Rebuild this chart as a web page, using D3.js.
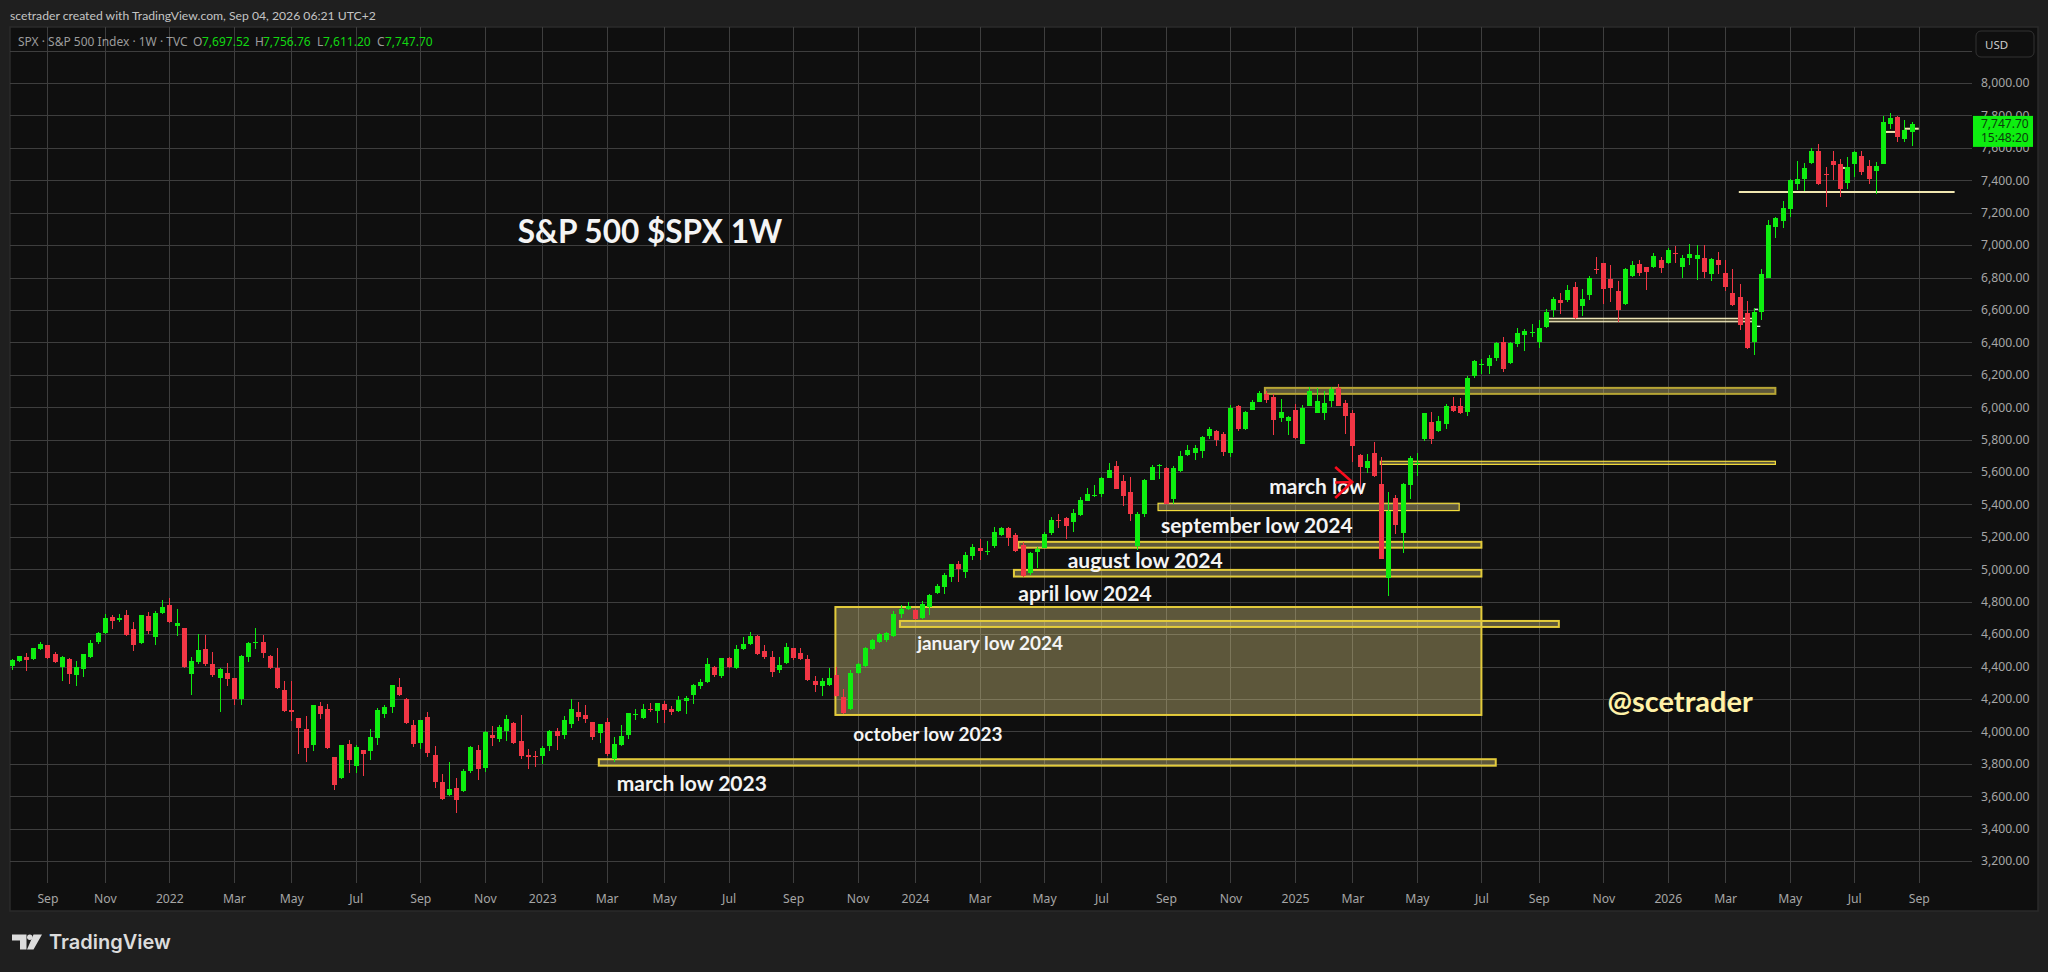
<!DOCTYPE html>
<html lang="en">
<head>
    <meta charset="UTF-8">
    <title>S&amp;P 500 $SPX 1W</title>
    <script src="https://d3js.org/d3.v7.min.js"></script>
    <style>
        html, body { margin: 0; padding: 0; background: #1f1f1f; overflow: hidden; }
        svg { display: block; }
        text { font-family: "Noto Sans", sans-serif; }
        .axis-label text { fill: #a6a6a6; font-size: 12.2px; }
        .axis-label .domain, .grid .domain { display: none; }
        .grid line { stroke: #3e3e3e; stroke-width: 1; shape-rendering: crispEdges; }
        .note { font-family: Lato, sans-serif; font-weight: 700; fill: #f4f4f4; font-size: 21px; dominant-baseline: middle; }
    </style>
</head>
<body>
    <div id="chart"></div>
    <script>
        // weekly candles, oldest first
        const opens = [
            4401,4432,4461,4444,4506,4531,4475,4397,4444,4346,
            4383,4457,4549,4605,4703,4685,4716,4629,4543,4709,
            4580,4728,4777,4648,4635,4352,4426,4506,4413,4327,
            4358,4327,4197,4457,4543,4549,4463,4389,4253,4130,
            4080,4012,3914,4154,4136,3840,3710,3920,3784,3883,
            3877,3957,4105,4148,4272,4197,4037,3926,4086,3852,
            3686,3605,3649,3630,3753,3883,3772,3975,3951,4000,
            4049,3938,3852,3846,3846,3908,4000,3975,4043,4117,
            4099,4056,3988,4056,3827,3914,3975,4099,4080,4136,
            4123,4167,4136,4123,4185,4222,4278,4302,4395,4339,
            4450,4389,4506,4537,4586,4494,4457,4376,4420,4512,
            4481,4444,4308,4278,4284,4346,4210,4136,4358,4401,
            4506,4549,4561,4586,4722,4753,4746,4697,4765,4851,
            4888,4950,5030,4985,5084,5133,5108,5145,5213,5256,
            5213,5152,4979,5108,5133,5226,5306,5318,5293,5337,
            5423,5454,5466,5565,5639,5546,5478,5145,5343,5553,
            5639,5627,5435,5608,5707,5719,5731,5824,5855,5836,
            5719,6009,5867,5984,6034,6083,6064,5935,5916,5984,
            5775,6009,5966,5966,6040,6120,6027,5966,5707,5627,
            5719,5528,4948,5441,5226,5522,5651,5803,5907,5852,
            5895,6006,6006,5969,6191,6261,6253,6302,6401,6271,
            6389,6444,6459,6401,6494,6598,6660,6660,6740,6623,
            6691,6851,6888,6790,6716,6635,6808,6882,6864,6864,
            6907,6888,6950,6864,6919,6913,6919,6820,6907,6827,
            6703,6679,6580,6401,6586,6799,7113,7150,7224,7379,
            7409,7508,7582,7436,7520,7502,7385,7502,7551,7490,
            7459,7502,7749,7792,7656,7697.52
        ];
        const highs = [
            4444,4467,4481,4515,4549,4533,4491,4465,4454,4432,
            4478,4561,4611,4722,4716,4722,4746,4672,4718,4734,
            4740,4808,4820,4753,4637,4457,4598,4592,4487,4389,
            4420,4329,4469,4549,4635,4592,4469,4512,4308,4308,
            4082,4093,4162,4179,4167,3842,3916,3945,3914,3885,
            4012,4142,4160,4286,4327,4204,4068,4070,4117,3908,
            3735,3809,3710,3766,3908,3914,4000,4031,4037,4099,
            4056,4099,3889,3877,3908,4006,4019,4093,4197,4179,
            4160,4058,4045,4080,3963,4037,4113,4136,4167,4173,
            4175,4185,4154,4216,4216,4290,4321,4450,4401,4452,
            4456,4531,4580,4611,4592,4531,4494,4457,4543,4514,
            4512,4469,4339,4327,4389,4395,4259,4376,4420,4518,
            4568,4604,4611,4740,4777,4796,4753,4802,4845,4907,
            4975,5033,5049,5108,5158,5189,5176,5263,5263,5263,
            5226,5170,5108,5139,5232,5324,5343,5320,5374,5448,
            5503,5522,5571,5657,5670,5583,5571,5355,5559,5645,
            5651,5629,5639,5731,5768,5768,5824,5879,5861,5849,
            6015,6015,5978,6046,6101,6101,6083,6052,5947,6021,
            6015,6126,6120,6101,6126,6145,6046,5984,5709,5713,
            5787,5694,5478,5460,5530,5701,5719,5965,5969,5945,
            6019,6062,6056,6191,6290,6296,6321,6401,6432,6401,
            6487,6481,6512,6537,6604,6679,6703,6753,6771,6728,
            6808,6925,6890,6876,6777,6857,6901,6907,6866,6950,
            6925,6981,6993,6938,7005,6999,6999,6919,6956,6907,
            6851,6759,6654,6611,6851,7153,7171,7274,7405,7520,
            7508,7601,7625,7483,7582,7533,7545,7582,7582,7527,
            7514,7798,7816,7794,7773,7756.76
        ];
        const lows = [
            4378,4428,4372,4442,4504,4448,4424,4311,4290,4278,
            4333,4450,4537,4598,4629,4672,4586,4494,4541,4598,
            4531,4726,4666,4586,4393,4222,4413,4401,4333,4117,
            4278,4160,4160,4426,4506,4450,4383,4263,4121,4062,
            3858,3809,3877,4074,3893,3636,3708,3741,3741,3723,
            3821,3914,4080,4111,4220,4047,3901,3889,3840,3649,
            3579,3603,3494,3628,3741,3698,3747,3908,3932,3938,
            3920,3827,3766,3778,3797,3877,3883,3951,4019,4062,
            4049,3945,3926,3846,3809,3908,3951,4068,4074,4117,
            4049,4049,4099,4117,4105,4167,4259,4300,4333,4327,
            4389,4387,4504,4531,4473,4444,4333,4358,4413,4438,
            4442,4313,4241,4216,4282,4214,4105,4134,4356,4399,
            4504,4547,4549,4584,4697,4751,4689,4695,4716,4845,
            4845,4919,4919,4948,5059,5059,5090,5133,5207,5145,
            5108,4954,4967,5010,5131,5213,5256,5189,5232,5330,
            5421,5448,5448,5563,5495,5392,5300,5121,5324,5551,
            5559,5402,5404,5602,5701,5676,5688,5805,5762,5701,
            5694,5855,5861,5982,6032,6027,5830,5910,5830,5805,
            5773,6007,5964,5923,6003,6007,5836,5664,5460,5596,
            5571,5063,4837,5219,5102,5435,5577,5790,5772,5846,
            5864,5969,5957,5945,6179,6204,6204,6284,6216,6269,
            6370,6345,6432,6364,6487,6555,6574,6648,6547,6561,
            6660,6820,6635,6648,6524,6633,6802,6808,6722,6857,
            6827,6886,6888,6796,6876,6783,6796,6777,6820,6716,
            6627,6475,6358,6321,6537,6796,7045,7107,7175,7342,
            7335,7502,7372,7237,7403,7298,7348,7422,7434,7379,
            7317,7500,7718,7638,7638,7611.20
        ];
        const closes = [
            4438,4467,4438,4512,4537,4450,4426,4457,4352,4395,
            4475,4543,4605,4697,4679,4697,4592,4531,4716,4617,
            4728,4765,4672,4666,4395,4432,4500,4413,4346,4383,
            4321,4197,4463,4543,4549,4481,4389,4265,4123,4117,
            4019,3895,4160,4105,3895,3667,3914,3821,3901,3858,
            3963,4130,4148,4284,4222,4049,3920,4068,3864,3686,
            3581,3642,3574,3753,3901,3766,3994,3957,4025,4074,
            3926,3846,3840,3842,3895,4000,3969,4068,4136,4086,
            4074,3963,4043,3858,3920,3969,4111,4105,4136,4130,
            4173,4130,4117,4191,4204,4284,4302,4413,4346,4450,
            4395,4506,4537,4586,4475,4457,4364,4407,4518,4450,
            4444,4315,4284,4308,4327,4216,4111,4358,4413,4512,
            4561,4598,4605,4722,4753,4771,4691,4783,4839,4894,
            4962,5030,4999,5090,5139,5115,5115,5232,5256,5195,
            5115,4960,5102,5127,5219,5306,5300,5269,5349,5429,
            5466,5460,5565,5614,5497,5454,5343,5343,5553,5633,
            5645,5404,5627,5701,5738,5750,5818,5867,5799,5725,
            5997,5867,5972,6034,6089,6046,5923,5972,5941,5812,
            5997,6101,6040,6027,6114,6009,5947,5762,5633,5670,
            5577,5065,5361,5275,5528,5688,5657,5963,5803,5914,
            6006,5975,5963,6179,6284,6265,6302,6395,6234,6395,
            6456,6469,6463,6487,6586,6666,6642,6722,6549,6666,
            6796,6847,6728,6734,6598,6851,6876,6827,6833,6931,
            6857,6968,6946,6919,6944,6938,6833,6913,6876,6740,
            6629,6506,6364,6586,6820,7126,7169,7230,7403,7409,
            7477,7582,7379,7432,7496,7348,7483,7576,7453,7409,
            7490,7761,7786,7668,7712,7747.70
        ];

        // axis ticks: week index of each month label
        const timeTickBars = [5,13,22,31,39,48,57,66,74,83,91,100,109,118,126,135,144,152,161,170,179,187,196,205,213,222,231,239,248,257,266];
        const timeTickLabels = ["Sep","Nov","2022","Mar","May","Jul","Sep","Nov","2023","Mar","May","Jul","Sep","Nov","2024","Mar","May","Jul","Sep","Nov","2025","Mar","May","Jul","Sep","Nov","2026","Mar","May","Jul","Sep"];
        const priceTicks = d3.range(3200, 8001, 200);

        // support zones drawn on the chart: start bar, end bar, top price, bottom price
        const zoneStart = [114.9, 123.9, 81.9, 139.8, 140.4, 159.9, 190.9, 174.8, 214];
        const zoneEnd   = [205, 215.8, 207, 205, 205, 201.9, 246, 246, 242.9];
        const zoneTop   = [4767, 4681, 3828, 4996, 5169, 5407, 5666, 6119, 6548];
        const zoneBot   = [4101, 4644, 3788, 4955, 5133, 5362, 5647, 6082, 6527];

        const noteTexts = ["march low", "september low 2024", "august low 2024", "april low 2024", "january low 2024", "october low 2023", "march low 2023"];
        const noteBars  = [175.4, 160.3, 147.3, 140.4, 126.3, 117.4, 84.4];
        const notePrice = [5496, 5255, 5039, 4836, 4533, 3972, 3664];

        // cream and white level lines: start bar, end bar, price
        const levelStart = [240.9, 261.3, 264, 255.3, 243, 243.3];
        const levelEnd   = [271, 263, 266, 255.7, 243.6, 243.9];
        const levelPrice = [7328, 7698, 7718, 7476, 6604, 6499];

        const width = 2048, height = 972;
        const pane = { left: 10, right: 2038, top: 27, bottom: 911 };
        const plotRight = 1972, plotBottom = 883;

        const x = d3.scaleLinear().domain([0, 265]).range([11.6, 1911.6]);
        const y = d3.scaleLinear().domain([3200, 8000]).range([861, 83]);

        const svg = d3.select("#chart").append("svg")
            .attr("width", width)
            .attr("height", height);

        svg.append("defs").append("clipPath").attr("id", "plot")
            .append("rect")
            .attr("x", pane.left).attr("y", pane.top)
            .attr("width", plotRight - pane.left)
            .attr("height", plotBottom - pane.top);

        svg.append("text")
            .attr("x", 10).attr("y", 20)
            .attr("fill", "#c4c4c4")
            .style("font-family", "Lato, sans-serif")
            .style("font-size", "12.2px")
            .text("scetrader created with TradingView.com, Sep 04, 2026 06:21 UTC+2");

        svg.append("rect")
            .attr("x", pane.left).attr("y", pane.top)
            .attr("width", pane.right - pane.left)
            .attr("height", pane.bottom - pane.top)
            .attr("fill", "#0f0f0f")
            .attr("stroke", "#2b2b2b")
            .attr("stroke-width", 1.5);

        // grid, from the same ticks as the axes
        svg.append("g").attr("class", "grid")
            .attr("transform", `translate(${plotRight},0)`)
            .call(d3.axisRight(y).tickValues(d3.range(3200, 8201, 200)).tickSize(-(plotRight - pane.left)).tickFormat(""));
        svg.append("g").attr("class", "grid")
            .attr("transform", `translate(0,${plotBottom})`)
            .call(d3.axisBottom(x).tickValues(timeTickBars).tickSize(-(plotBottom - pane.top)).tickFormat(""));

        const plot = svg.append("g").attr("clip-path", "url(#plot)");

        // zones sit under the candles
        const zoneStrokes = ["#e3cb3b", "#e3cb3b", "#e3cb3b", "#e3cb3b", "#e3cb3b", "#f2dc3c", "#f2dc3c", "#b7a535", "#f7efc0"];
        const zoneWidths  = [2, 2, 2, 2, 2, 1.2, 1.2, 2, 1.2];
        plot.selectAll("rect.zone")
            .data(zoneStart)
            .join("rect")
            .attr("class", "zone")
            .attr("x", (d, i) => x(d))
            .attr("y", (d, i) => y(zoneTop[i]))
            .attr("width", (d, i) => x(zoneEnd[i]) - x(d))
            .attr("height", (d, i) => y(zoneBot[i]) - y(zoneTop[i]))
            .attr("fill", "#f1e090")
            .attr("fill-opacity", 0.35)
            .attr("stroke", (d, i) => zoneStrokes[i])
            .attr("stroke-width", (d, i) => zoneWidths[i]);

        plot.selectAll("line.level")
            .data(levelStart)
            .join("line")
            .attr("class", "level")
            .attr("x1", d => x(d))
            .attr("x2", (d, i) => x(levelEnd[i]))
            .attr("y1", (d, i) => y(levelPrice[i]))
            .attr("y2", (d, i) => y(levelPrice[i]))
            .attr("stroke", (d, i) => i > 3 ? "#ffffff" : "#f0e6b0")
            .attr("stroke-width", (d, i) => i > 3 ? 1.2 : 2);

        // candles
        const upColor = "#0eee10", downColor = "#f23645";
        const candle = plot.selectAll("g.candle")
            .data(opens)
            .join("g")
            .attr("class", "candle");

        candle.append("line")
            .attr("x1", (d, i) => Math.round(x(i)) + 0.5)
            .attr("x2", (d, i) => Math.round(x(i)) + 0.5)
            .attr("y1", (d, i) => y(highs[i]))
            .attr("y2", (d, i) => y(lows[i]))
            .attr("stroke", (d, i) => closes[i] >= d ? upColor : downColor)
            .attr("stroke-width", 1)
            .attr("shape-rendering", "crispEdges");

        candle.append("rect")
            .attr("x", (d, i) => Math.round(x(i)) - 2)
            .attr("width", 5)
            .attr("y", (d, i) => y(Math.max(d, closes[i])))
            .attr("height", (d, i) => Math.max(1, Math.abs(y(d) - y(closes[i]))))
            .attr("fill", (d, i) => closes[i] >= d ? upColor : downColor)
            .attr("shape-rendering", "crispEdges");

        // notes on the chart
        const noteSizes = [21, 21, 21, 21, 19, 19, 21];
        svg.selectAll("text.note")
            .data(noteTexts)
            .join("text")
            .attr("class", "note")
            .attr("x", (d, i) => x(noteBars[i]))
            .attr("y", (d, i) => y(notePrice[i]))
            .style("font-size", (d, i) => noteSizes[i] + "px")
            .text(d => d);

        svg.append("text").attr("class", "note")
            .attr("x", x(70.6)).attr("y", y(7060))
            .style("font-size", "31.6px")
            .attr("fill", "#ffffff")
            .text("S&P 500 $SPX 1W");

        svg.append("text").attr("class", "note")
            .attr("x", x(222.6)).attr("y", y(4163))
            .style("font-size", "29px")
            .style("fill", "#fff2a8")
            .text("@scetrader");

        // red arrow over the march low note
        const tipBar = 186.98, tipPrice = 5538;
        svg.append("path")
            .attr("d", `M${x(tipBar) - 17},${y(tipPrice) - 15} L${x(tipBar)},${y(tipPrice)} L${x(tipBar) - 17},${y(tipPrice) + 16} M${x(tipBar) - 17},${y(tipPrice) + 0.5} L${x(tipBar)},${y(tipPrice)}`)
            .attr("fill", "none")
            .attr("stroke", "#f80d1e")
            .attr("stroke-width", 2.6);

        // legend row
        const legend = svg.append("text")
            .attr("y", 46)
            .attr("fill", "#9c9c9c")
            .style("font-size", "12px");
        legend.append("tspan").attr("x", 18).text("SPX · S&P 500 Index · 1W · TVC");
        const ohlcLetters = ["O", "H", "L", "C"];
        const ohlcValues = [opens[265], highs[265], lows[265], closes[265]];
        const ohlcLetterX = [193, 255, 317, 377];
        const ohlcValueX = [202, 263, 323, 385];
        ohlcLetters.forEach((letter, i) => {
            legend.append("tspan").attr("x", ohlcLetterX[i]).text(letter);
            legend.append("tspan").attr("x", ohlcValueX[i]).attr("fill", "#12d812").text(d3.format(",.2f")(ohlcValues[i]));
        });

        // price axis
        svg.append("g").attr("class", "axis-label")
            .attr("transform", `translate(${plotRight},0)`)
            .call(d3.axisRight(y).tickValues(priceTicks).tickSize(0).tickPadding(9).tickFormat(d3.format(",.2f")));

        // time axis
        svg.append("g").attr("class", "axis-label")
            .attr("transform", `translate(0,${plotBottom})`)
            .call(d3.axisBottom(x).tickValues(timeTickBars).tickSize(0).tickPadding(11)
                .tickFormat((d, i) => timeTickLabels[i]));
        svg.selectAll(".axis-label .tick line").remove();

        svg.selectAll(".axis-label text").style("font-family", '"Noto Sans", sans-serif');

        // last price tag
        const lastY = y(closes[265]);
        svg.append("rect")
            .attr("x", 1973).attr("y", lastY - 8)
            .attr("width", 60).attr("height", 31)
            .attr("fill", "#0eee10");
        svg.append("text")
            .attr("x", 1981).attr("y", lastY + 4)
            .attr("fill", "#0c3d0c")
            .style("font-size", "12px")
            .text(d3.format(",.2f")(closes[265]));
        svg.append("text")
            .attr("x", 1981).attr("y", lastY + 18)
            .attr("fill", "#0c3d0c")
            .style("font-size", "12px")
            .text("15:48:20");

        // currency button
        svg.append("rect")
            .attr("x", 1976).attr("y", 31)
            .attr("width", 58).attr("height", 26)
            .attr("rx", 5)
            .attr("fill", "#0f0f0f")
            .attr("stroke", "#333333");
        svg.append("text")
            .attr("x", 1985).attr("y", 49)
            .attr("fill", "#cccccc")
            .style("font-size", "11.5px")
            .text("USD");

        // logo
        svg.append("path")
            .attr("d", "M12,934.5 H26.5 V949.5 H20 V940.5 H12 Z M33.5,934.5 H42 L33.5,949.5 H27 Z")
            .attr("fill", "#dcdcdc");
        svg.append("circle")
            .attr("cx", 29.8).attr("cy", 937.2).attr("r", 2.7)
            .attr("fill", "#dcdcdc");
        svg.append("text")
            .attr("x", 49).attr("y", 948.5)
            .attr("fill", "#dcdcdc")
            .style("font-family", "Inter, sans-serif")
            .style("font-weight", 600)
            .style("font-size", "20px")
            .text("TradingView");
    </script>
</body>
</html>
